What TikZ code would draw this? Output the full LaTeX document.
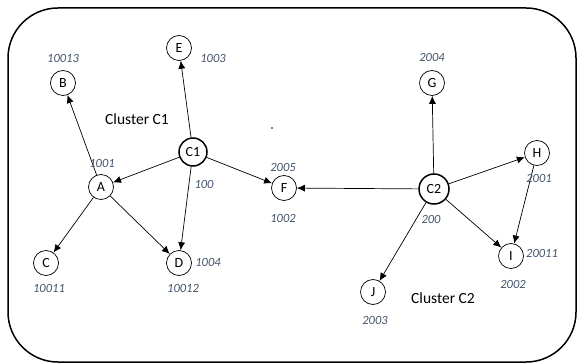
\documentclass[tikz,border=0pt]{standalone}
\usepackage{fontspec}
\setmainfont{Carlito}
\usetikzlibrary{arrows.meta}
\definecolor{lbl}{HTML}{44546A}
\tikzset{
  vert/.style={circle,draw,line width=0.7pt,minimum size=25pt,inner sep=0pt,font=\fontsize{14}{15}\selectfont},
  hub/.style={vert,line width=1.5pt,minimum size=28pt},
  edge/.style={line width=0.7pt,-{Latex[length=8pt,width=7pt]}},
  num/.style={font=\fontsize{12.5}{13}\selectfont\itshape,text=lbl,inner sep=0pt},
  clabel/.style={font=\fontsize{15.5}{16}\selectfont,inner sep=0pt}
}
\begin{document}
\begin{tikzpicture}[x=1pt,y=-1pt]
\useasboundingbox (0,0) rectangle (577,363);
\draw[line width=1.5pt,rounded corners=50pt] (8,8) rectangle (576,362);
% nodes
\node[vert] (E) at (179,48) {E};
\node[vert] (B) at (63,83) {B};
\node[hub] (C1) at (193,152) {C1};
\node[vert] (A) at (101,187) {A};
\node[vert] (C) at (46,263) {C};
\node[vert] (D) at (179,263) {D};
\node[vert] (F) at (284,188) {F};
\node[hub,minimum size=30pt] (C2) at (434,189) {C2};
\node[vert] (G) at (432,83) {G};
\node[vert] (H) at (537,153) {H};
\node[vert] (I) at (511,256) {I};
\node[vert] (J) at (373,292) {J};
% edges
\draw[edge] (A) -- (B);
\draw[edge] (A) -- (C);
\draw[edge] (A) -- (D);
\draw[edge] (C1) -- (A);
\draw[edge] (C1) -- (E);
\draw[edge] (C1) -- (D);
\draw[edge] (C1) -- (F);
\draw[edge] (C2) -- (F);
\draw[edge] (C2) -- (G);
\draw[edge] (C2) -- (H);
\draw[edge] (C2) -- (J);
\draw[edge] (C2) -- (I);
\draw[edge] (H) -- (I);
% labels
\node[num] (lB) at (63,58) {10013};
\node[num] (lE) at (213,58) {1003};
\node[num] (lA) at (102,163) {1001};
\node[num] (lC1) at (204,184) {100};
\node[num] (lF1) at (283,167) {2005};
\node[num] (lF2) at (283,218) {1002};
\node[num] (lD1) at (208,262) {1004};
\node[num] (lD2) at (183,288) {10012};
\node[num] (lC) at (49,288) {10011};
\node[num] (lG) at (432,57) {2004};
\node[num] (lH) at (539,178) {2001};
\node[num] (lC2) at (431,219) {200};
\node[num] (lI1) at (542,253) {20011};
\node[num] (lI2) at (513,284) {2002};
\node[num] (lJ) at (375,320) {2003};
\node[clabel] (k1) at (137,119) {Cluster C1};
\node[clabel] (k2) at (443,298) {Cluster C2};
\fill (272,128) circle (0.8pt);
\end{tikzpicture}
\end{document}
